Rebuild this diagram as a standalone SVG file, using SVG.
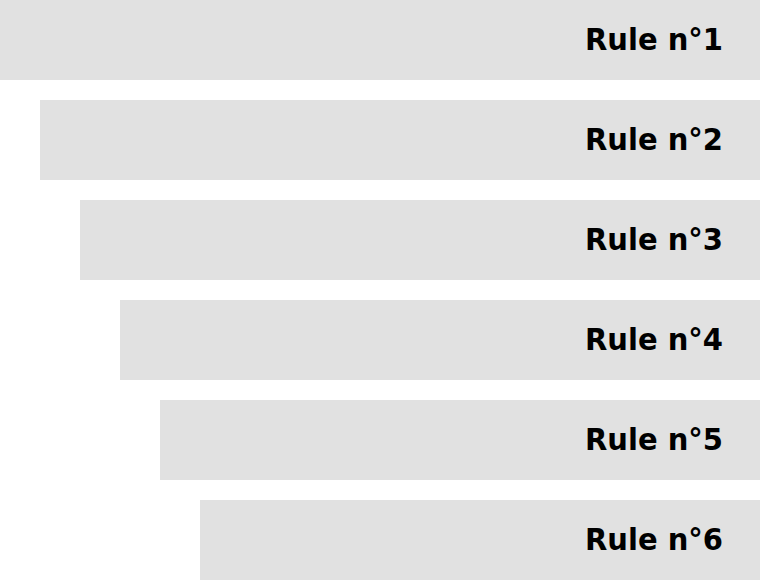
<svg xmlns="http://www.w3.org/2000/svg" width="760" height="580" viewBox="0 0 760 580">
<style>
.bar{fill:#e1e1e1}
.lbl{font-family:"Comic Sans MS","DejaVu Sans",sans-serif;font-weight:bold;font-size:31px;fill:#000}
</style>
<rect width="760" height="580" fill="#fff"/>
<g id="rule1"><rect class="bar" x="0" y="0" width="760" height="80"/><text class="lbl" x="585" y="50" textLength="138" lengthAdjust="spacingAndGlyphs">Rule n°1</text></g>
<g id="rule2"><rect class="bar" x="40" y="100" width="720" height="80"/><text class="lbl" x="585" y="150" textLength="138" lengthAdjust="spacingAndGlyphs">Rule n°2</text></g>
<g id="rule3"><rect class="bar" x="80" y="200" width="680" height="80"/><text class="lbl" x="585" y="250" textLength="138" lengthAdjust="spacingAndGlyphs">Rule n°3</text></g>
<g id="rule4"><rect class="bar" x="120" y="300" width="640" height="80"/><text class="lbl" x="585" y="350" textLength="138" lengthAdjust="spacingAndGlyphs">Rule n°4</text></g>
<g id="rule5"><rect class="bar" x="160" y="400" width="600" height="80"/><text class="lbl" x="585" y="450" textLength="138" lengthAdjust="spacingAndGlyphs">Rule n°5</text></g>
<g id="rule6"><rect class="bar" x="200" y="500" width="560" height="80"/><text class="lbl" x="585" y="550" textLength="138" lengthAdjust="spacingAndGlyphs">Rule n°6</text></g>
<g id="connectors"/>
</svg>
